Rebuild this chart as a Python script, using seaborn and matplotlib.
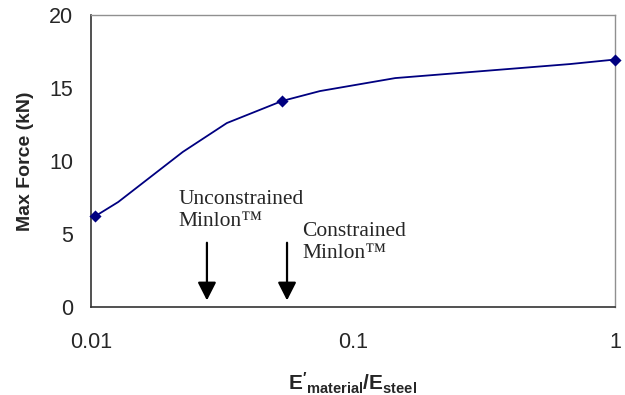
import matplotlib
matplotlib.use("Agg")
import matplotlib.pyplot as plt
import seaborn as sns
import pandas as pd

# Data
marker_x = [0.0104, 0.0536, 1.0]
marker_y = [6.23, 14.11, 16.95]
curve_x = [0.0104, 0.0127, 0.0224, 0.0330, 0.0536, 0.0748, 0.145, 0.673, 1.0]
curve_y = [6.23, 7.19, 10.62, 12.60, 14.11, 14.79, 15.68, 16.64, 16.95]
arrow_x = [0.0277, 0.056]
arrow_labels = ["Unconstrained\nMinlon\u2122", "Constrained\nMinlon\u2122"]
label_x = [0.0215, 0.0639]
label_y = [8.00, 5.82]
y_ticks = [0, 5, 10, 15, 20]
x_ticks = [0.01, 0.1, 1]
x_tick_labels = ["0.01", "0.1", "1"]

sns.set_style("white")
plt.rcParams["font.family"] = ["Liberation Sans", "DejaVu Sans"]
plt.rcParams["mathtext.fontset"] = "custom"
plt.rcParams["mathtext.bf"] = "Liberation Sans:bold"
plt.rcParams["mathtext.rm"] = "Liberation Sans"
plt.rcParams["mathtext.it"] = "Liberation Sans:italic"

fig = plt.figure(figsize=(6.25, 3.95), dpi=100)
ax = fig.add_axes([0.1456, 0.2228, 0.8384, 0.7392])

curve = pd.DataFrame({"x": curve_x, "y": curve_y})
marks = pd.DataFrame({"x": marker_x, "y": marker_y})
sns.lineplot(data=curve, x="x", y="y", ax=ax, color="#000080", lw=1.3,
             estimator=None, sort=False)
sns.scatterplot(data=marks, x="x", y="y", ax=ax, color="#000080", marker="D",
                s=38, edgecolor="#000080", linewidth=0, zorder=5, clip_on=False)

ax.set_xscale("log")
ax.set_xlim(0.01, 1)
ax.set_ylim(0, 20)
ax.set_xticks(x_ticks)
ax.set_xticklabels(x_tick_labels)
ax.minorticks_off()
ax.set_yticks(y_ticks)
ax.tick_params(axis="both", which="major", direction="out", length=5, width=1,
               color="#333333", labelsize=15.5, pad=8)
ax.tick_params(axis="x", pad=13)

for side in ["left", "bottom"]:
    ax.spines[side].set_color("#333333")
    ax.spines[side].set_linewidth(1.2)
for side in ["top", "right"]:
    ax.spines[side].set_color("#909090")
    ax.spines[side].set_linewidth(1.0)

ax.set_ylabel("Max Force (kN)", fontsize=14, fontweight="bold", labelpad=11)
ax.set_xlabel(r"$\mathbf{E'_{material}/E_{steel}}$", fontsize=15, labelpad=13)

for xa in arrow_x:
    ax.annotate("", xy=(xa, 0.45), xytext=(xa, 4.4),
                arrowprops=dict(arrowstyle="-|>,head_length=0.55,head_width=0.28",
                                color="black", lw=1.6, mutation_scale=20,
                                shrinkA=0, shrinkB=0))

for lx, ly, txt in zip(label_x, label_y, arrow_labels):
    ax.text(lx, ly, txt, family=["Liberation Serif", "DejaVu Serif"],
            fontsize=15.5, ha="left", va="top", linespacing=1.22)

fig.savefig("out.png", dpi=100)
